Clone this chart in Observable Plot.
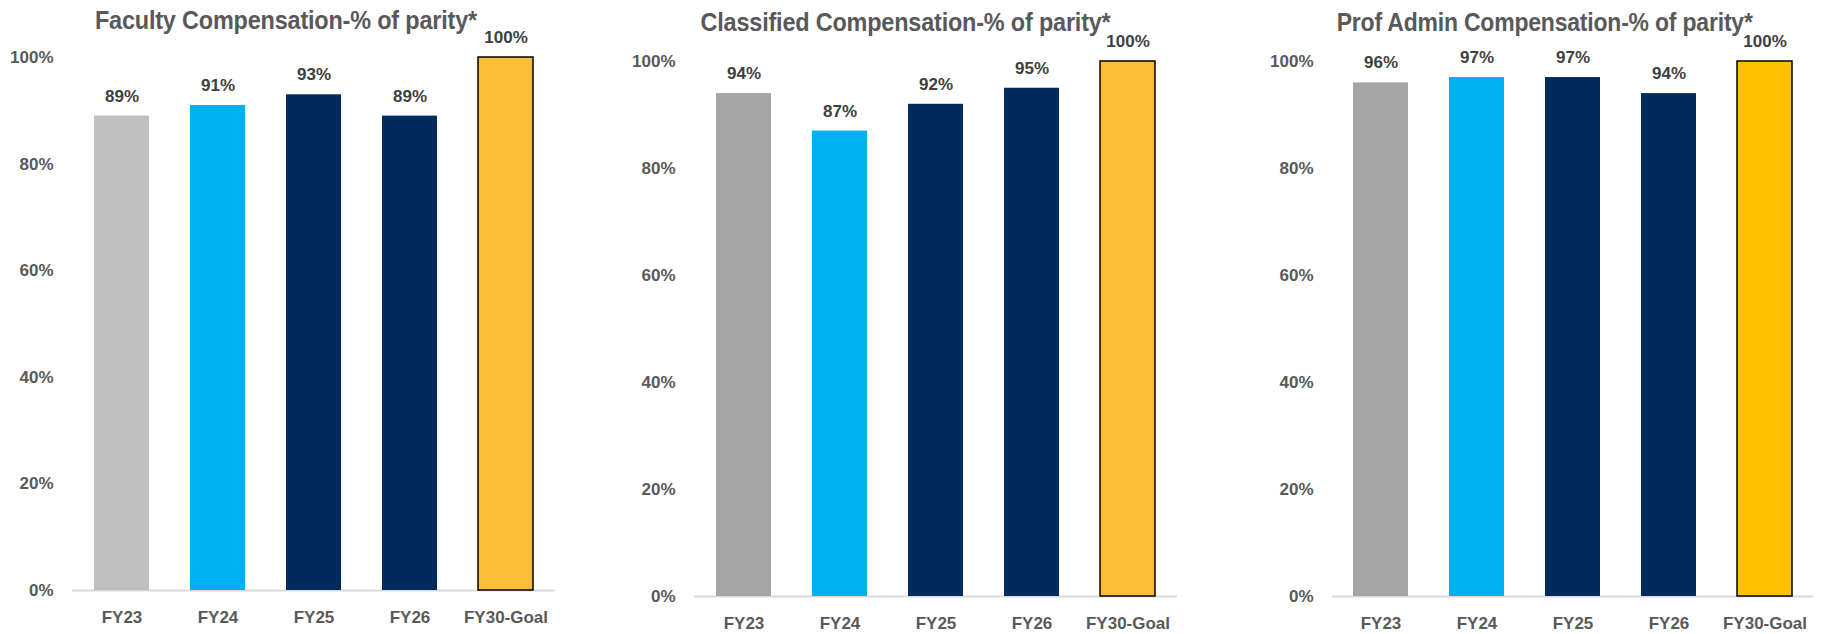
<!DOCTYPE html>
<html>
<head>
<meta charset="utf-8">
<script src="https://cdn.jsdelivr.net/npm/d3@7"></script>
<script src="https://cdn.jsdelivr.net/npm/@observablehq/plot@0.6"></script>
<style>
  html, body { margin: 0; padding: 0; background: #fff; }
  body { width: 1823px; height: 634px; position: relative; overflow: hidden; }
  .panel { position: absolute; top: 0; }
  .title {
    position: absolute; text-align: center;
    font-family: "Liberation Sans Narrow", "Arial Narrow", "Liberation Sans", Arial, sans-serif;
    font-weight: bold; font-size: 26px; color: #595959; white-space: nowrap; line-height: 1;
    transform-origin: center center; letter-spacing: -0.2px;
  }
</style>
</head>
<body>
<script>
// ---- data ----
const categories = ["FY23", "FY24", "FY25", "FY26", "FY30-Goal"];
const facultyValues = [89, 91, 93, 89, 100];
const classifiedValues = [94, 87, 92, 95, 100];
const profAdminValues = [96, 97, 97, 94, 100];
const yTicks = [0, 20, 40, 60, 80, 100];
const titles = [
  "Faculty Compensation-% of parity*",
  "Classified Compensation-% of parity*",
  "Prof Admin Compensation-% of parity*"
];
const goalCategory = "FY30-Goal";

// ---- styling / layout ----
const palettes = [
  ["#BFBFBF", "#00B0F0", "#002B5C", "#002B5C", "#FBBC38"],
  ["#A5A5A5", "#00B0F0", "#002B5C", "#002B5C", "#FBBC38"],
  ["#A5A5A5", "#00B0F0", "#002B5C", "#002B5C", "#FFC000"]
];
const panels = [
  {left: 0,    width: 600, mL: 72, mR: 45, mT: 57, mB: 44, titleX: 286,  titleY: 7,  titleW: 382},
  {left: 620,  width: 600, mL: 74, mR: 43, mT: 61, mB: 38, titleX: 906,  titleY: 9,  titleW: 410},
  {left: 1240, width: 583, mL: 92, mR: 10, mT: 61, mB: 38, titleX: 1545, titleY: 9,  titleW: 416}
];
const seriesList = [facultyValues, classifiedValues, profAdminValues];

const axisFont = "Liberation Sans, Arial, sans-serif";
const fs = 17;

panels.forEach((p, k) => {
  const rows = categories.map((c, i) => ({cat: c, value: seriesList[k][i], color: palettes[k][i]}));
  const normal = rows.filter(d => d.cat !== goalCategory);
  const goal = rows.filter(d => d.cat === goalCategory);

  const chart = Plot.plot({
    width: p.width,
    height: 634,
    marginLeft: p.mL,
    marginRight: p.mR,
    marginTop: p.mT,
    marginBottom: p.mB,
    style: {fontFamily: axisFont, fontSize: fs + "px", fontWeight: "bold", color: "#595959", background: "transparent"},
    x: {domain: categories, paddingInner: 0.43, paddingOuter: 0.215, label: null},
    y: {domain: [0, 100], label: null},
    marks: [
      Plot.ruleY([0], {stroke: "#D9D9D9", strokeWidth: 2}),
      Plot.barY(normal, {x: "cat", y: "value", fill: "color"}),
      Plot.barY(goal, {x: "cat", y: "value", fill: "color", stroke: "#000", strokeWidth: 1.5}),
      Plot.text(rows, {x: "cat", y: "value", text: d => d.value + "%", dy: -20,
        fill: "#404040", fontSize: fs, fontWeight: "bold"}),
      Plot.axisY({ticks: yTicks, tickSize: 0, tickPadding: 19, tickFormat: d => d + "%",
        fill: "#595959", fontSize: fs, fontWeight: "bold", label: null}),
      Plot.axisX({tickSize: 0, tickPadding: 20, fill: "#595959", fontSize: fs, fontWeight: "bold", label: null})
    ]
  });
  const wrap = document.createElement("div");
  wrap.className = "panel";
  wrap.style.left = p.left + "px";
  wrap.appendChild(chart);
  document.body.appendChild(wrap);

  const t = document.createElement("div");
  t.className = "title";
  t.textContent = titles[k];
  t.style.top = p.titleY + "px";
  document.body.appendChild(t);
  const w = t.getBoundingClientRect().width;
  t.style.left = (p.titleX - w / 2) + "px";
  t.style.transform = "scaleX(" + (p.titleW / w) + ")";
});
</script>
</body>
</html>
